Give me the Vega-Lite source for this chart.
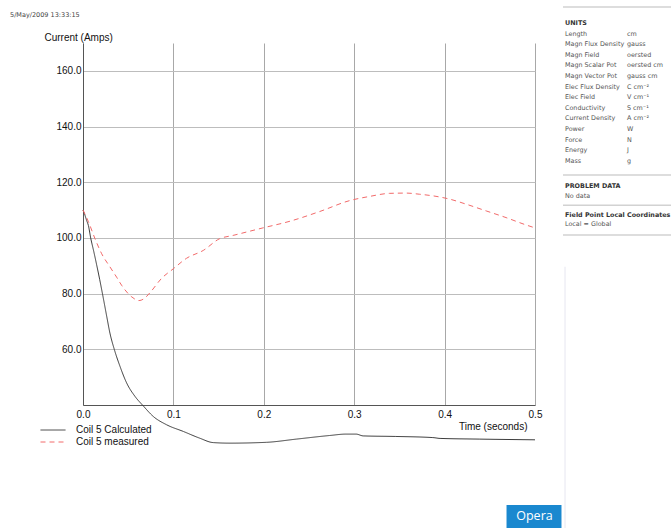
{
  "$schema": "https://vega.github.io/schema/vega-lite/v6.json",
  "autosize": {"type": "none"},
  "padding": {"left": 83, "top": 43, "right": 588, "bottom": 485},
  "background": "white",
  "spacing": 28,
  "bounds": "flush",
  "resolve": {"scale": {"x": "independent", "y": "independent"}},
  "config": {
    "view": {"stroke": null},
    "font": "Liberation Sans"
  },
  "hconcat": [
    {
      "width": 452,
      "height": 362,
      "title": {
        "text": "5/May/2009 13:33:15",
        "anchor": "start",
        "frame": "group",
        "dx": -73,
        "offset": 9,
        "baseline": "alphabetic",
        "fontSize": 6.5,
        "font": "DejaVu Sans",
        "fontWeight": "normal",
        "color": "#444444"
      },
      "layer": [
        {
          "data": {
            "values": [
              {"series": "Coil 5 Calculated", "t": 0, "amps": 110},
              {"series": "Coil 5 Calculated", "t": 0.002, "amps": 108.3},
              {"series": "Coil 5 Calculated", "t": 0.004, "amps": 106.3},
              {"series": "Coil 5 Calculated", "t": 0.006, "amps": 104.4},
              {"series": "Coil 5 Calculated", "t": 0.0085, "amps": 100},
              {"series": "Coil 5 Calculated", "t": 0.012, "amps": 95},
              {"series": "Coil 5 Calculated", "t": 0.015, "amps": 90.5},
              {"series": "Coil 5 Calculated", "t": 0.0185, "amps": 85},
              {"series": "Coil 5 Calculated", "t": 0.0218, "amps": 79.5},
              {"series": "Coil 5 Calculated", "t": 0.0262, "amps": 71.9},
              {"series": "Coil 5 Calculated", "t": 0.0298, "amps": 65.8},
              {"series": "Coil 5 Calculated", "t": 0.0346, "amps": 60},
              {"series": "Coil 5 Calculated", "t": 0.0409, "amps": 53.9},
              {"series": "Coil 5 Calculated", "t": 0.0483, "amps": 47.9},
              {"series": "Coil 5 Calculated", "t": 0.0575, "amps": 43.1},
              {"series": "Coil 5 Calculated", "t": 0.0666, "amps": 39.7},
              {"series": "Coil 5 Calculated", "t": 0.0777, "amps": 35.9},
              {"series": "Coil 5 Calculated", "t": 0.0925, "amps": 32.9},
              {"series": "Coil 5 Calculated", "t": 0.111, "amps": 30.5},
              {"series": "Coil 5 Calculated", "t": 0.129, "amps": 28.1},
              {"series": "Coil 5 Calculated", "t": 0.144, "amps": 26.5},
              {"series": "Coil 5 Calculated", "t": 0.1624, "amps": 26.3},
              {"series": "Coil 5 Calculated", "t": 0.203, "amps": 26.6},
              {"series": "Coil 5 Calculated", "t": 0.236, "amps": 27.75},
              {"series": "Coil 5 Calculated", "t": 0.273, "amps": 29.05},
              {"series": "Coil 5 Calculated", "t": 0.291, "amps": 29.55},
              {"series": "Coil 5 Calculated", "t": 0.302, "amps": 29.55},
              {"series": "Coil 5 Calculated", "t": 0.31, "amps": 28.9},
              {"series": "Coil 5 Calculated", "t": 0.346, "amps": 28.7},
              {"series": "Coil 5 Calculated", "t": 0.387, "amps": 28.3},
              {"series": "Coil 5 Calculated", "t": 0.395, "amps": 28.0},
              {"series": "Coil 5 Calculated", "t": 0.439, "amps": 27.75},
              {"series": "Coil 5 Calculated", "t": 0.5, "amps": 27.5},
              {"series": "Coil 5 measured", "t": 0, "amps": 110},
              {"series": "Coil 5 measured", "t": 0.006, "amps": 105.8},
              {"series": "Coil 5 measured", "t": 0.0133, "amps": 99.7},
              {"series": "Coil 5 measured", "t": 0.0207, "amps": 94.3},
              {"series": "Coil 5 measured", "t": 0.0298, "amps": 89.6},
              {"series": "Coil 5 measured", "t": 0.0372, "amps": 85.9},
              {"series": "Coil 5 measured", "t": 0.0427, "amps": 83},
              {"series": "Coil 5 measured", "t": 0.054, "amps": 78.8},
              {"series": "Coil 5 measured", "t": 0.062, "amps": 77.5},
              {"series": "Coil 5 measured", "t": 0.068, "amps": 78.3},
              {"series": "Coil 5 measured", "t": 0.074, "amps": 80.3},
              {"series": "Coil 5 measured", "t": 0.087, "amps": 85.5},
              {"series": "Coil 5 measured", "t": 0.0998, "amps": 88.9},
              {"series": "Coil 5 measured", "t": 0.1146, "amps": 92.7},
              {"series": "Coil 5 measured", "t": 0.133, "amps": 95.5},
              {"series": "Coil 5 measured", "t": 0.151, "amps": 99.7},
              {"series": "Coil 5 measured", "t": 0.166, "amps": 100.9},
              {"series": "Coil 5 measured", "t": 0.199, "amps": 103.6},
              {"series": "Coil 5 measured", "t": 0.229, "amps": 106},
              {"series": "Coil 5 measured", "t": 0.262, "amps": 109.5},
              {"series": "Coil 5 measured", "t": 0.295, "amps": 113.4},
              {"series": "Coil 5 measured", "t": 0.317, "amps": 114.9},
              {"series": "Coil 5 measured", "t": 0.339, "amps": 116},
              {"series": "Coil 5 measured", "t": 0.358, "amps": 116.1},
              {"series": "Coil 5 measured", "t": 0.372, "amps": 115.7},
              {"series": "Coil 5 measured", "t": 0.393, "amps": 114.8},
              {"series": "Coil 5 measured", "t": 0.406, "amps": 113.9},
              {"series": "Coil 5 measured", "t": 0.424, "amps": 112.1},
              {"series": "Coil 5 measured", "t": 0.446, "amps": 109.7},
              {"series": "Coil 5 measured", "t": 0.468, "amps": 107.3},
              {"series": "Coil 5 measured", "t": 0.488, "amps": 104.9},
              {"series": "Coil 5 measured", "t": 0.5, "amps": 103.6}
            ]
          },
          "mark": {"type": "line", "strokeWidth": 1, "interpolate": "monotone"},
          "encoding": {
            "x": {
              "field": "t",
              "type": "quantitative",
              "scale": {"domain": [0, 0.5], "nice": false, "zero": false},
              "axis": {
                "title": "Time (seconds)",
                "values": [0, 0.1, 0.2, 0.3, 0.4, 0.5],
                "format": ".1f",
                "ticks": false,
                "tickSize": 0,
                "labelPadding": 4,
                "labelFontSize": 10,
                "labelFont": "Liberation Sans",
                "labelColor": "#111111",
                "labelFlush": false,
                "labelOverlap": false,
                "grid": true,
                "gridColor": "#a8a8a8",
                "gridWidth": 1,
                "domainColor": "#555555",
                "domainWidth": 1,
                "titleX": 444,
                "titleY": 24,
                "titleAlign": "right",
                "titleBaseline": "alphabetic",
                "titleFontWeight": "normal",
                "titleFontSize": 10,
                "titleFont": "Liberation Sans",
                "titleColor": "#111111"
              }
            },
            "y": {
              "field": "amps",
              "type": "quantitative",
              "scale": {"domain": [40, 170], "nice": false, "zero": false},
              "axis": {
                "title": "Current (Amps)",
                "values": [60, 80, 100, 120, 140, 160],
                "format": ".1f",
                "ticks": false,
                "tickSize": 0,
                "labelPadding": 2,
                "labelFontSize": 10,
                "labelFont": "Liberation Sans",
                "labelColor": "#111111",
                "grid": true,
                "gridColor": "#bdbdbd",
                "gridWidth": 1,
                "domainColor": "#555555",
                "domainWidth": 1,
                "titleAngle": 0,
                "titleX": -39,
                "titleY": -3,
                "titleAlign": "left",
                "titleBaseline": "alphabetic",
                "titleFontWeight": "normal",
                "titleFontSize": 10,
                "titleFont": "Liberation Sans",
                "titleColor": "#111111"
              }
            },
            "color": {
              "field": "series",
              "type": "nominal",
              "scale": {
                "domain": ["Coil 5 Calculated", "Coil 5 measured"],
                "range": ["#3a3a3a", "#f26a6a"]
              },
              "legend": {
                "title": null,
                "orient": "none",
                "legendX": -43,
                "legendY": 382,
                "symbolType": "stroke",
                "symbolSize": 625,
                "symbolStrokeWidth": 1,
                "labelFontSize": 10,
                "labelFont": "Liberation Sans",
                "labelColor": "#111111",
                "labelOffset": 10,
                "clipHeight": 10,
                "rowPadding": 2
              }
            },
            "strokeDash": {
              "field": "series",
              "type": "nominal",
              "scale": {
                "domain": ["Coil 5 Calculated", "Coil 5 measured"],
                "range": [[1, 0], [5, 4]]
              },
              "legend": {
                "title": null,
                "orient": "none",
                "legendX": -43,
                "legendY": 382,
                "symbolType": "stroke",
                "symbolSize": 625,
                "symbolStrokeWidth": 1,
                "labelFontSize": 10,
                "labelFont": "Liberation Sans",
                "labelColor": "#111111",
                "labelOffset": 10,
                "clipHeight": 10,
                "rowPadding": 2
              }
            }
          }
        },
        {
          "data": {"values": [{"logo": "Opera"}]},
          "mark": {"type": "rect", "color": "#1a88cf"},
          "encoding": {
            "x": {"datum": 0.4685},
            "x2": {"datum": 0.5293},
            "y": {"datum": 4.1},
            "y2": {"datum": -6}
          }
        },
        {
          "data": {"values": [{"logo": "Opera"}]},
          "mark": {"type": "text", "color": "white", "fontSize": 12.5, "font": "Open Sans", "align": "center", "baseline": "middle"},
          "encoding": {
            "x": {"datum": 0.4994},
            "y": {"datum": 0.3},
            "text": {"field": "logo"}
          }
        }
      ]
    },
    {
      "width": 108,
      "height": 485,
      "data": {
        "values": [
          {"line": -1.5, "kind": "sep"},
          {"line": 0, "kind": "head", "label": "UNITS"},
          {"line": 1, "kind": "unit", "label": "Length", "value": "cm"},
          {"line": 2, "kind": "unit", "label": "Magn Flux Density", "value": "gauss"},
          {"line": 3, "kind": "unit", "label": "Magn Field", "value": "oersted"},
          {"line": 4, "kind": "unit", "label": "Magn Scalar Pot", "value": "oersted cm"},
          {"line": 5, "kind": "unit", "label": "Magn Vector Pot", "value": "gauss cm"},
          {"line": 6, "kind": "unit", "label": "Elec Flux Density", "value": "C cm⁻²"},
          {"line": 7, "kind": "unit", "label": "Elec Field", "value": "V cm⁻¹"},
          {"line": 8, "kind": "unit", "label": "Conductivity", "value": "S cm⁻¹"},
          {"line": 9, "kind": "unit", "label": "Current Density", "value": "A cm⁻²"},
          {"line": 10, "kind": "unit", "label": "Power", "value": "W"},
          {"line": 11, "kind": "unit", "label": "Force", "value": "N"},
          {"line": 12, "kind": "unit", "label": "Energy", "value": "J"},
          {"line": 13, "kind": "unit", "label": "Mass", "value": "g"},
          {"line": 14.35, "kind": "sep"},
          {"line": 15.39, "kind": "head", "label": "PROBLEM DATA"},
          {"line": 16.33, "kind": "body", "label": "No data"},
          {"line": 17.2, "kind": "sep"},
          {"line": 18.15, "kind": "head", "label": "Field Point Local Coordinates"},
          {"line": 19, "kind": "body", "label": "Local = Global"},
          {"line": 20, "kind": "sep"},
          {"line": 23, "kind": "divider", "label": "", "line_end": 47.65}
        ]
      },
      "encoding": {
        "y": {
          "field": "line",
          "type": "quantitative",
          "scale": {"domain": [1.896, 47.65], "reverse": true, "nice": false, "zero": false},
          "axis": null
        }
      },
      "layer": [
        {
          "transform": [{"filter": "datum.kind === 'sep'"}],
          "mark": {"type": "rule", "color": "#d2d2d2", "strokeWidth": 1.5}
        },
        {
          "transform": [
            {"filter": "datum.kind === 'divider'"},
            {"fold": ["label"], "as": ["column", "text"]}
          ],
          "mark": {"type": "rule", "color": "#e6e6f0", "strokeWidth": 1},
          "encoding": {
            "x": {"field": "column", "type": "nominal", "scale": {"type": "point", "domain": ["label", "value"], "range": [2, 64], "padding": 0}, "axis": null},
            "y2": {"field": "line_end"}
          }
        },
        {
          "transform": [
            {"filter": "datum.kind === 'unit' || datum.kind === 'body'"},
            {"fold": ["label", "value"], "as": ["column", "text"]},
            {"filter": "datum.text != null"}
          ],
          "mark": {"type": "text", "align": "left", "baseline": "middle", "font": "DejaVu Sans", "fontSize": 6.4, "color": "#555555"},
          "encoding": {
            "x": {"field": "column", "type": "nominal", "axis": null},
            "text": {"field": "text"}
          }
        },
        {
          "transform": [
            {"filter": "datum.kind === 'head'"},
            {"fold": ["label"], "as": ["column", "text"]}
          ],
          "mark": {"type": "text", "align": "left", "baseline": "middle", "font": "DejaVu Sans", "fontSize": 6.4, "fontWeight": "bold", "color": "#333333"},
          "encoding": {
            "x": {"field": "column", "type": "nominal", "axis": null},
            "text": {"field": "text"}
          }
        }
      ]
    }
  ]
}
